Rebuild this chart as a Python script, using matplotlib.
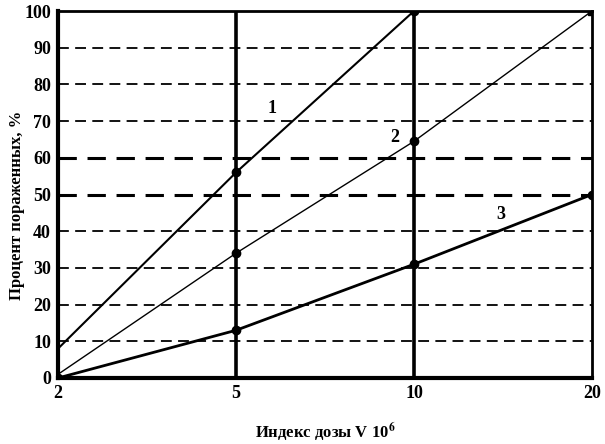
import numpy as np
import matplotlib
matplotlib.use("Agg")
import matplotlib.pyplot as plt

plt.rcParams['font.family'] = ['Liberation Serif', 'DejaVu Serif']
plt.rcParams['font.weight'] = 'bold'
plt.rcParams['mathtext.fontset'] = 'stix'

# data
dose = ['2', '5', '10', '20']
line1 = [8, 56, 100]          # stops at dose 10
line2 = [1, 34, 64.5, 100]
line3 = [0, 13, 31, 50]
y_ticks = [0, 10, 20, 30, 40, 50, 60, 70, 80, 90, 100]

x = np.arange(len(dose))

fig = plt.figure(figsize=(6.05, 4.44), dpi=100)
ax = fig.add_axes([58/605, 1 - 378/444, (592 - 58)/605, (378 - 11)/444])

# dashed horizontal grid, 50 and 60 drawn heavier
for v in y_ticks[1:-1]:
    lw = 2.2 if v in (50, 60) else 1.3
    ax.axhline(v, color='black', lw=lw, ls=(0, (6, 3.5)), zorder=1)

# heavy verticals at 5 and 10
ax.axvline(x[1], color='black', lw=2.6, zorder=2)
ax.axvline(x[2], color='black', lw=2.6, zorder=2)

ax.plot(x[:3], line1, color='black', lw=1.5, zorder=3)
ax.plot(x[1:3], line1[1:], 'o', color='black', ms=6, zorder=4)
ax.plot(x, line2, color='black', lw=1.0, zorder=3)
ax.plot(x[1:3], line2[1:3], 'o', color='black', ms=6, zorder=4)
ax.plot(x[3], line2[3], 's', color='black', ms=6, zorder=4)
ax.plot(x, line3, color='black', lw=2.0, zorder=3)
ax.plot(x, line3, 'o', color='black', ms=6, zorder=4)

ax.text(1.2, 73.5, '1', fontsize=13, fontweight='bold', ha='center', va='center')
ax.text(1.89, 65.5, '2', fontsize=13, fontweight='bold', ha='center', va='center')
ax.text(2.49, 44.5, '3', fontsize=13, fontweight='bold', ha='center', va='center')

ax.set_xlim(x[0], x[-1])
ax.set_ylim(0, 100)
ax.set_xticks(x)
ax.set_xticklabels(dose)
ax.set_yticks(y_ticks)
ax.tick_params(length=0, labelsize=13, pad=5)
for lab in ax.get_xticklabels() + ax.get_yticklabels():
    lab.set_fontweight('bold')

for side, w in [('left', 3), ('bottom', 3), ('right', 2), ('top', 2)]:
    ax.spines[side].set_linewidth(w)
    ax.spines[side].set_color('black')

ax.set_ylabel('Процент пораженных, %', fontsize=12, fontweight='bold')
ax.yaxis.set_label_coords(-0.077, 0.47)
ax.set_xlabel(r'Индекс дозы V 10$^{\mathbf{6}}$', fontsize=12, fontweight='bold')
ax.xaxis.set_label_coords(0.5, -0.147)
ax.xaxis.label.set_va('center')
ax.yaxis.label.set_va('center')

fig.savefig('out.png', dpi=100)
